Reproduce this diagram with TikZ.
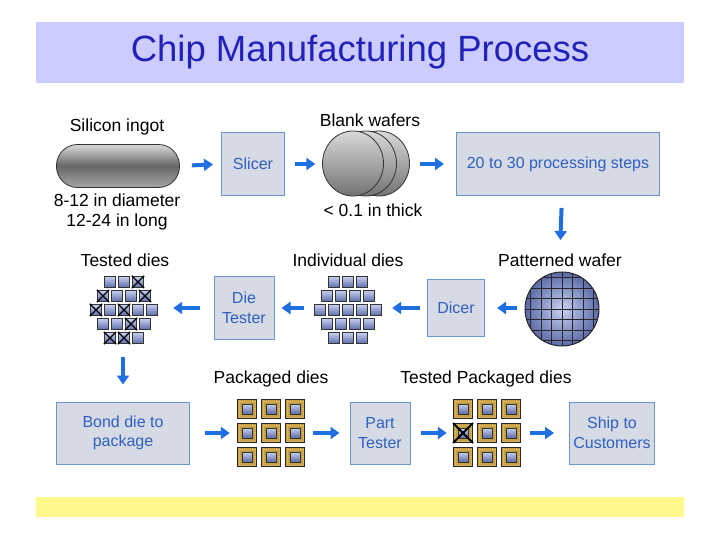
\documentclass[tikz,border=0pt]{standalone}
\usepackage{fontspec}
\setmainfont{Liberation Sans}
\usetikzlibrary{arrows.meta}
\definecolor{band}{HTML}{CCCCFF}
\definecolor{ttl}{HTML}{2222BB}
\definecolor{arr}{HTML}{1F6FE0}
\definecolor{boxf}{HTML}{D6DAE4}
\definecolor{boxd}{HTML}{6A96D0}
\definecolor{boxt}{HTML}{2F5FC0}
\definecolor{dieA}{HTML}{C8D2F0}
\definecolor{dieB}{HTML}{5A6AA8}
\definecolor{gold}{HTML}{C8A040}
\begin{document}
\begin{tikzpicture}[x=1pt,y=-1pt,
  lbl/.style={font=\fontsize{17.5}{20}\selectfont,align=center},
  box/.style={draw=boxd,line width=1pt,fill=boxf,text=boxt,font=\fontsize{16}{19.5}\selectfont,align=center,inner sep=0},
  ar/.style={draw=arr,line width=4pt,-{Triangle[length=9pt,width=12pt]}},
  die/.style={draw=black!80,line width=0.8pt,top color=dieA,bottom color=dieB,minimum size=11.5pt,inner sep=0},
  grp/.style={inner sep=0}]
\useasboundingbox (0,0) rectangle (720,540);
\fill[white] (0,0) rectangle (720,540);
\fill[band] (36,22) rectangle (684,83);
\node (title) at (360,52) {\fontsize{36.5}{40}\selectfont\color{ttl}Chip Manufacturing Process};
\fill[yellow!45] (36,497) rectangle (684,517);
% ingot
\node[grp,draw=black!80,line width=0.8pt,rounded corners=21pt,top color=black!15,bottom color=black!35,middle color=black!60,minimum width=123pt,minimum height=43pt] (ingot) at (118,166) {};
\node[lbl] (ingotl) at (117,127) {Silicon ingot};
\node[lbl] (ingotd) at (117,212) {8-12 in diameter\\12-24 in long};
\node[box,minimum width=63pt,minimum height=63pt] (slicer) at (253,164) {Slicer};
% wafers
\foreach \dx in {26,13,0}
  \shade[draw=black!80,line width=0.8pt,shading angle=45,top color=black!15,bottom color=black!55] (353+\dx,163.5) ellipse (30.5 and 32.5);
\node[grp,minimum width=87pt,minimum height=65pt] (wafers) at (366,164) {};
\node[lbl] (wafersl) at (370,120) {Blank wafers};
\node[lbl] (thick) at (373,210) {< 0.1 in thick};
\node[box,minimum width=203pt,minimum height=63pt] (proc) at (558,164) {20 to 30 processing steps};
% patterned wafer
\begin{scope}
\clip (562,309) circle (37);
\shade[inner color=dieA,outer color=dieB] (562,309) circle (37);
\foreach \i in {-3,...,3} {
  \draw[black!85,line width=1pt] (562+\i*10.5,260) -- (562+\i*10.5,360);
  \draw[black!85,line width=1pt] (510,309+\i*10.5) -- (615,309+\i*10.5);}
\end{scope}
\draw[black!85,line width=1pt] (562,309) circle (37);
\node[grp,minimum width=74pt,minimum height=74pt] (pwafer) at (562,309) {};
\node[lbl] (pwaferl) at (560,260) {Patterned wafer};
\node[box,minimum width=57pt,minimum height=57pt] (dicer) at (456,308) {Dicer};
% individual dies
\foreach \n/\yy in {3/282,4/296,5/310,4/324,3/338}
  \foreach \k in {1,...,\n}
    \node[die] at ({348+(\k-\n/2-0.5)*14},\yy) {};
\node[grp,minimum width=70pt,minimum height=70pt] (idies) at (348,310) {};
\node[lbl] (idiesl) at (348,260) {Individual dies};
\node[box,minimum width=60pt,minimum height=63pt] (dtester) at (244,308) {Die\\Tester};
% tested dies
\foreach \n/\yy/\xs in {3/282/{3},4/296/{1,4},5/310/{1,3},4/324/{3},3/338/{1,2}}
  \foreach \k in {1,...,\n} {
    \node[die] (d) at ({124+(\k-\n/2-0.5)*14},\yy) {};
    \foreach \x in \xs { \ifnum\x=\k \draw[black,line width=1.3pt] (d.north west)--(d.south east) (d.north east)--(d.south west); \fi }
  }
\node[grp,minimum width=70pt,minimum height=70pt] (tdies) at (124,310) {};
\node[lbl] (tdiesl) at (125,260) {Tested dies};
\node[box,minimum width=133pt,minimum height=62pt] (bond) at (123,433) {Bond die to\\package};
% packaged dies
\foreach \cx/\bad in {271/0,487/1}
  \foreach \i in {-1,0,1}
    \foreach \j in {-1,0,1} {
      \node[draw=black!85,line width=1pt,fill=gold,minimum size=19pt,inner sep=0] (p) at (\cx+\i*24,433+\j*24) {};
      \draw[gold!60!white,line width=0.6pt,dash pattern=on 1pt off 1pt] ([shift={(2,2)}]p.north west) rectangle ([shift={(-2,-2)}]p.south east);
      \node[die,minimum size=10pt] (q) at (p) {};
      \ifnum\bad=1 \ifnum\i=-1 \ifnum\j=0
        \draw[black,line width=2pt] (p.north west)--(p.south east) (p.north east)--(p.south west);
      \fi\fi\fi
    }
\node[grp,minimum width=66pt,minimum height=66pt] (pdies) at (271,433) {};
\node[grp,minimum width=66pt,minimum height=66pt] (tpdies) at (487,433) {};
\node[lbl] (pdiesl) at (271,379) {Packaged dies};
\node[lbl] (tpdiesl) at (486,379) {Tested Packaged dies};
\node[box,minimum width=60pt,minimum height=62pt] (ptester) at (380,433) {Part\\Tester};
\node[box,minimum width=85pt,minimum height=62pt] (ship) at (612,433) {Ship to\\Customers};
% arrows
\draw[ar,shorten <=12pt,shorten >=8pt] (ingot.east) -- (slicer.west);
\draw[ar,shorten <=10pt,shorten >=7pt] (slicer.east) -- (wafers.west |- slicer.east);
\draw[ar,shorten <=10pt,shorten >=12pt] (wafers.east |- proc.west) -- (proc.west);
\draw[ar,shorten <=12pt,shorten >=10pt] (proc.south -| pwafer) -- (pwaferl.north);
\draw[ar,shorten <=8pt,shorten >=12pt] (pwafer.west |- dicer.east) -- (dicer.east);
\draw[ar,shorten <=7pt,shorten >=9pt] (dicer.west) -- (idies.east |- dicer.west);
\draw[ar,shorten <=9pt,shorten >=7pt] (idies.west |- dtester.east) -- (dtester.east);
\draw[ar,shorten <=14pt,shorten >=14pt] (dtester.west) -- (tdies.east |- dtester.west);
\draw[ar,shorten <=12pt,shorten >=17pt] (tdies.south -| bond) -- (bond.north);
\draw[ar,shorten <=15pt,shorten >=8pt] (bond.east) -- (pdies.west |- bond.east);
\draw[ar,shorten <=9pt,shorten >=10pt] (pdies.east |- ptester.west) -- (ptester.west);
\draw[ar,shorten <=10pt,shorten >=7pt] (ptester.east) -- (tpdies.west |- ptester.east);
\draw[ar,shorten <=10pt,shorten >=15pt] (tpdies.east |- ship.west) -- (ship.west);
\end{tikzpicture}
\end{document}
